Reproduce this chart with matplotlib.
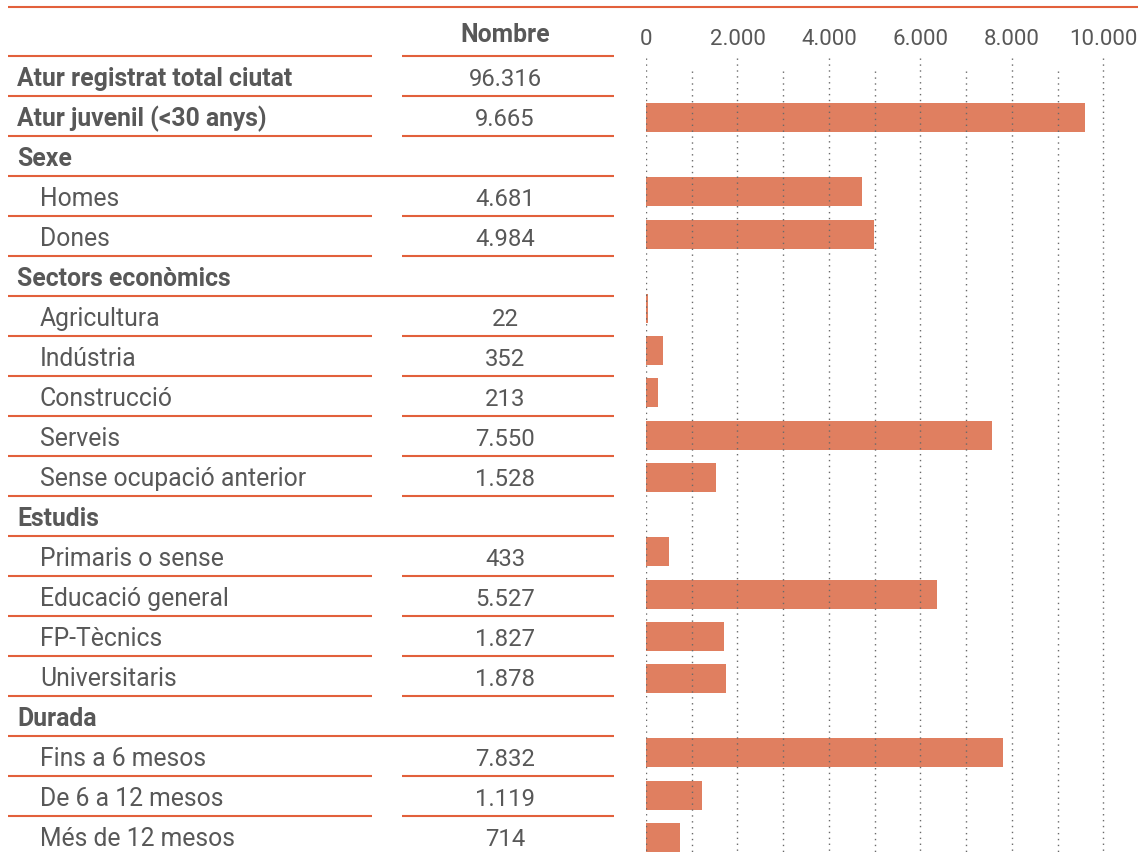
import matplotlib
matplotlib.use("Agg")
import matplotlib.pyplot as plt
import numpy as np

labels = ["Atur registrat total ciutat", "Atur juvenil (<30 anys)", "Sexe", "Homes", "Dones",
          "Sectors econòmics", "Agricultura", "Indústria", "Construcció", "Serveis",
          "Sense ocupació anterior", "Estudis", "Primaris o sense", "Educació general",
          "FP-Tècnics", "Universitaris", "Durada", "Fins a 6 mesos", "De 6 a 12 mesos",
          "Més de 12 mesos"]
kinds = ["bold", "bold", "group", "item", "item", "group", "item", "item", "item", "item",
         "item", "group", "item", "item", "item", "item", "group", "item", "item", "item"]
values = [96316, 9665, None, 4681, 4984, None, 22, 352, 213, 7550, 1528, None,
          433, 5527, 1827, 1878, None, 7832, 1119, 714]
# bar lengths as read from the bars of the picture (None = no bar)
bar_values = [None, 9600, None, 4720, 4990, None, 40, 370, 260, 7570, 1530, None,
              500, 6360, 1710, 1750, None, 7810, 1220, 740]
tick_values = [0, 2000, 4000, 6000, 8000, 10000]
grid_values = list(range(0, 10001, 1000))
header = "Nombre"

W, H = 1138, 852
LINE = "#E2603B"
BAR = "#E07F60"
TXT = "#585858"
GRID = "#6a6a6a"
FONT = "Roboto"
FS_LAB = 17.8
FS_NUM = 17.2
FS_TICK = 16

fig = plt.figure(figsize=(W / 100, H / 100), dpi=100)
ax = fig.add_axes([0, 0, 1, 1])
ax.set_xlim(0, W)
ax.set_ylim(H, 0)
ax.axis("off")

px_per_1000 = 45.73
x0 = 646
bx = fig.add_axes([x0 / W, 0, (W - x0) / W, 1])
bx.set_xlim(0, (W - x0) / px_per_1000 * 1000)
bx.set_ylim(H, 0)
bx.axis("off")


def fmt(v):
    return f"{v:,}".replace(",", ".")


LW = 1.5
header_line = 56
rh = 40


def seg_line(y, full):
    if full:
        ax.plot([8, 614], [y, y], color=LINE, lw=LW, solid_capstyle="butt")
    else:
        ax.plot([8, 372], [y, y], color=LINE, lw=LW, solid_capstyle="butt")
        ax.plot([402, 614], [y, y], color=LINE, lw=LW, solid_capstyle="butt")


# top rule
ax.plot([8, W], [7, 7], color=LINE, lw=LW, solid_capstyle="butt")
# header
ax.text(505, 41.5, header, ha="center", va="baseline", fontsize=FS_LAB, fontweight="bold",
        color=TXT, family=FONT)
seg_line(header_line, False)

for i, (lab, kind, val) in enumerate(zip(labels, kinds, values)):
    top = header_line + rh * i
    base = top + 30
    xl = 40 if kind == "item" else 17
    fw = "normal" if kind == "item" else "bold"
    ax.text(xl, base, lab, ha="left", va="baseline", fontsize=FS_LAB, fontweight=fw,
            color=TXT, family=FONT)
    if val is not None:
        ax.text(505, base, fmt(val), ha="center", va="baseline", fontsize=FS_NUM,
                color=TXT, family=FONT)
    if top + rh < H:
        seg_line(top + rh, kind == "group")

# bar positions: the bar panel has its own rhythm (narrower slots for group headers)
item_slot, group_slot, first_center = 42.3, 32.0, 117.4
bar_y, bar_v = [], []
pos = first_center
started = False
for kind, bv in zip(kinds, bar_values):
    if bv is None and not started:
        continue
    started = True
    if kind == "group":
        pos += group_slot
        continue
    bar_y.append(pos)
    bar_v.append(bv)
    pos += item_slot

bx.barh(bar_y, bar_v, height=29, color=BAR, zorder=1)

# dotted gridlines (drawn above bars)
for g in grid_values:
    ystart = 58 if g % 2000 == 0 else 71
    bx.plot([g, g], [ystart, H], color=GRID, lw=1.0, linestyle=(0, (1, 3.25)), zorder=3)

for t in tick_values:
    bx.text(t, 45, fmt(t), ha="center", va="baseline", fontsize=FS_TICK, color=TXT,
            family=FONT)

fig.savefig("out.png", dpi=100)
